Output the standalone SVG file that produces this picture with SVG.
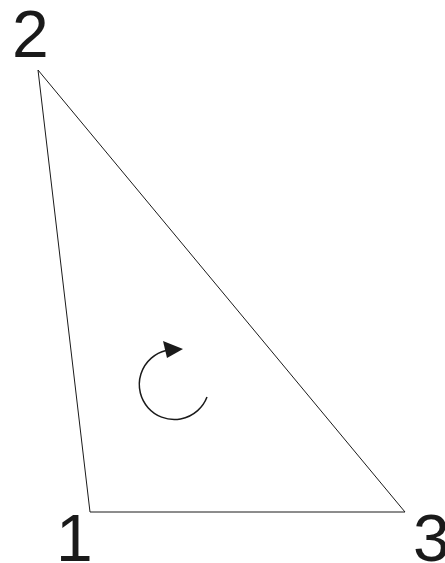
<svg xmlns="http://www.w3.org/2000/svg" width="445" height="563" viewBox="0 0 445 563">
<style>
.lbl{font-family:"Liberation Sans",Arial,sans-serif;font-size:66px;fill:#1a1a1a}
.edge{stroke:#1a1a1a;stroke-width:1;fill:none}
</style>
<defs>
<marker id="ah" viewBox="0 0 10 10" refX="9" refY="5" markerWidth="10" markerHeight="10" markerUnits="userSpaceOnUse" orient="auto">
<path d="M0,0 L10,5 L0,10 Z" fill="#1a1a1a"/>
</marker>
</defs>
<rect width="445" height="563" fill="#fff"/>
<g id="connectors">
<path class="edge" d="M38,70 L90,512 L405,512 Z"/>
</g>
<g id="rotation">
<path d="M207,397 A35,35 0 1 1 166,350.5" fill="none" stroke="#1a1a1a" stroke-width="1.5"/>
<path d="M163,341 L183,349 L167,358 Z" fill="#1a1a1a"/>
</g>
<g id="n2"><text class="lbl" x="12" y="57">2</text></g>
<g id="n1"><text class="lbl" x="56" y="561">1</text></g>
<g id="n3"><text class="lbl" x="413" y="561">3</text></g>
</svg>
